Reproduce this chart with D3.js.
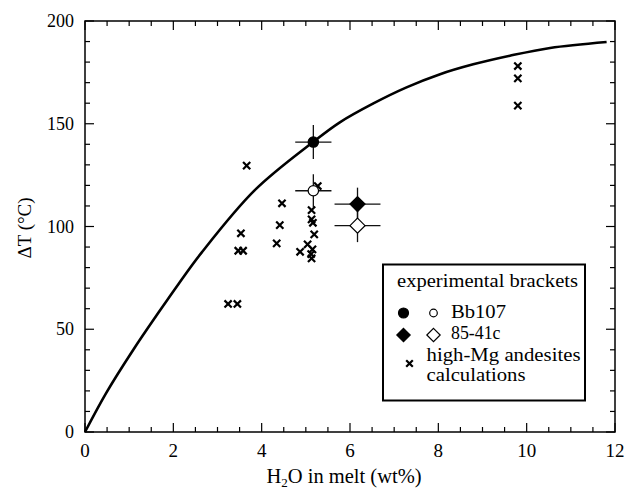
<!DOCTYPE html>
<html><head><meta charset="utf-8">
<script src="https://cdn.jsdelivr.net/npm/d3@7"></script>
<style>body{margin:0;background:#fff}svg{display:block}text{font-family:"Liberation Serif","Times New Roman",serif;fill:#000}</style>
</head><body><svg id="c" width="627" height="490"></svg>
<script>
// model curve
const curveX = [0, 0.475, 1.09, 1.70, 2.11, 2.64, 3.85, 5.17, 5.77, 6.53, 7.28, 8.04, 8.79, 9.62, 10.53, 11.81];
const curveY = [0, 18.8, 39.9, 59.2, 71.8, 87.3, 117.8, 141.2, 150.7, 159.9, 167.7, 174.1, 178.9, 183.1, 186.9, 189.8];
// high-Mg andesite calculations
const calcX = [3.66, 4.46, 4.41, 4.34, 3.53, 3.47, 3.58, 4.87, 5.13, 5.13, 5.16, 5.19, 5.04, 5.15, 5.12, 5.13, 5.27, 9.80, 9.80, 9.80, 3.24, 3.45];
const calcY = [129.6, 111.3, 100.7, 91.8, 96.7, 88.2, 88.2, 87.7, 108, 103.5, 101.8, 96.2, 91.3, 88.9, 86.6, 84.5, 119.7, 178.1, 172.1, 158.8, 62.3, 62.3];
// experimental brackets
const expNames = ["Bb107", "Bb107", "85-41c", "85-41c"];
const expShape = ["circle", "circle", "diamond", "diamond"];
const expFilled = [true, false, true, false];
const expX = [5.17, 5.17, 6.17, 6.17];
const expY = [141.1, 117.4, 110.9, 100.4];
const expErrX = [0.41, 0.41, 0.52, 0.52];
const expErrY = [8.3, 8, 8, 8];
const xTicks = [0, 2, 4, 6, 8, 10, 12];
const yTicks = [0, 50, 100, 150, 200];

const svg = d3.select("#c");
const L = 85, R = 615, T = 21, B = 432;
const x = d3.scaleLinear().domain([0, 12]).range([L, R]);
const y = d3.scaleLinear().domain([0, 200]).range([B, T]);

// minor ticks
const xMinor = d3.range(0, 12.01, 0.5);
const yMinor = d3.range(0, 200.1, 10);
const g = svg.append("g");
const tk = (x1, y1, x2, y2) => g.append("line").attr("x1", x1).attr("y1", y1).attr("x2", x2).attr("y2", y2).attr("stroke", "#000").attr("stroke-width", 1.2);
xMinor.forEach(v => { const major = Math.abs(v % 2) < 1e-6; const len = major ? 9 : 5;
  tk(x(v), B, x(v), B - len); tk(x(v), T, x(v), T + len); });
yMinor.forEach(v => { const major = Math.abs(v % 50) < 1e-6; const len = major ? 9 : 5;
  tk(L, y(v), L + len, y(v)); tk(R, y(v), R - len, y(v)); });

svg.append("rect").attr("x", L).attr("y", T).attr("width", R - L).attr("height", B - T)
  .attr("fill", "none").attr("stroke", "#000").attr("stroke-width", 1.5);

// tick labels
svg.append("g").selectAll("text").data(xTicks).join("text")
  .attr("x", d => x(d)).attr("y", 457).attr("text-anchor", "middle").attr("font-size", 19).text(d => d);
svg.append("g").selectAll("text").data(yTicks).join("text")
  .attr("x", 74).attr("y", d => y(d) + 6).attr("text-anchor", "end").attr("font-size", 18).text(d => d);

// axis titles
const xt = svg.append("text").attr("x", 344).attr("y", 483).attr("text-anchor", "middle").attr("font-size", 20.5);
xt.append("tspan").text("H");
xt.append("tspan").attr("font-size", 13).attr("dy", 4).text("2");
xt.append("tspan").attr("dy", -4).text("O in melt (wt%)");
svg.append("text").attr("transform", "translate(31,228) rotate(-90)").attr("text-anchor", "middle")
  .attr("font-size", 19).text("ΔT (°C)");

// curve
const line = d3.line().x(d => x(d[0])).y(d => y(d[1])).curve(d3.curveCatmullRom.alpha(0.5));
svg.append("path").datum(curveX.map((v, i) => [v, curveY[i]])).attr("d", line)
  .attr("fill", "none").attr("stroke", "#000").attr("stroke-width", 2.6);

// crosses
const cross = (sel, cx, cy, s) => {
  sel.append("path").attr("d", `M${cx - s},${cy - s}L${cx + s},${cy + s}M${cx - s},${cy + s}L${cx + s},${cy - s}`)
    .attr("stroke", "#000").attr("stroke-width", 2.2).attr("fill", "none");
};
const cg = svg.append("g");
calcX.forEach((v, i) => cross(cg, x(v), y(calcY[i]), 3.6));

// experimental points with error bars
const eg = svg.append("g");
expX.forEach((v, i) => {
  const cx = x(v), cy = y(expY[i]);
  eg.append("line").attr("x1", x(v - expErrX[i])).attr("x2", x(v + expErrX[i])).attr("y1", cy).attr("y2", cy).attr("stroke", "#111").attr("stroke-width", 1.3);
  eg.append("line").attr("x1", cx).attr("x2", cx).attr("y1", y(expY[i] - expErrY[i])).attr("y2", y(expY[i] + expErrY[i])).attr("stroke", "#111").attr("stroke-width", 1.3);
});
const marker = (sel, shape, filled, cx, cy, s) => {
  let m;
  if (shape === "circle") m = sel.append("circle").attr("cx", cx).attr("cy", cy).attr("r", s);
  else m = sel.append("path").attr("d", `M${cx},${cy - s * 1.45}L${cx + s * 1.45},${cy}L${cx},${cy + s * 1.45}L${cx - s * 1.45},${cy}Z`);
  m.attr("fill", filled ? "#000" : "#fff").attr("stroke", "#000").attr("stroke-width", 1.2);
};
expX.forEach((v, i) => marker(eg, expShape[i], expFilled[i], x(v), y(expY[i]), 5.2));

// legend
const lg = svg.append("g");
lg.append("rect").attr("x", 383).attr("y", 264.5).attr("width", 202).attr("height", 136)
  .attr("fill", "#fff").attr("stroke", "#000").attr("stroke-width", 2);
const lt = (tx, ty, s, w) => lg.append("text").attr("x", tx).attr("y", ty).attr("font-size", 18.5)
  .attr("textLength", w).attr("lengthAdjust", "spacingAndGlyphs").text(s);
lt(397, 287, "experimental brackets", 181);
marker(lg, "circle", true, 403.5, 313, 5);
marker(lg, "circle", false, 433.5, 313, 3.8);
lt(451, 318, expNames[0], 55);
marker(lg, "diamond", true, 403.5, 335, 4.6);
marker(lg, "diamond", false, 433.5, 335, 4.6);
lt(451, 339, expNames[2], 49.5);
cross(lg, 409.5, 363.5, 3.3);
lt(426.5, 360.5, "high-Mg andesites", 154);
lt(426.5, 381, "calculations", 99);
</script></body></html>
